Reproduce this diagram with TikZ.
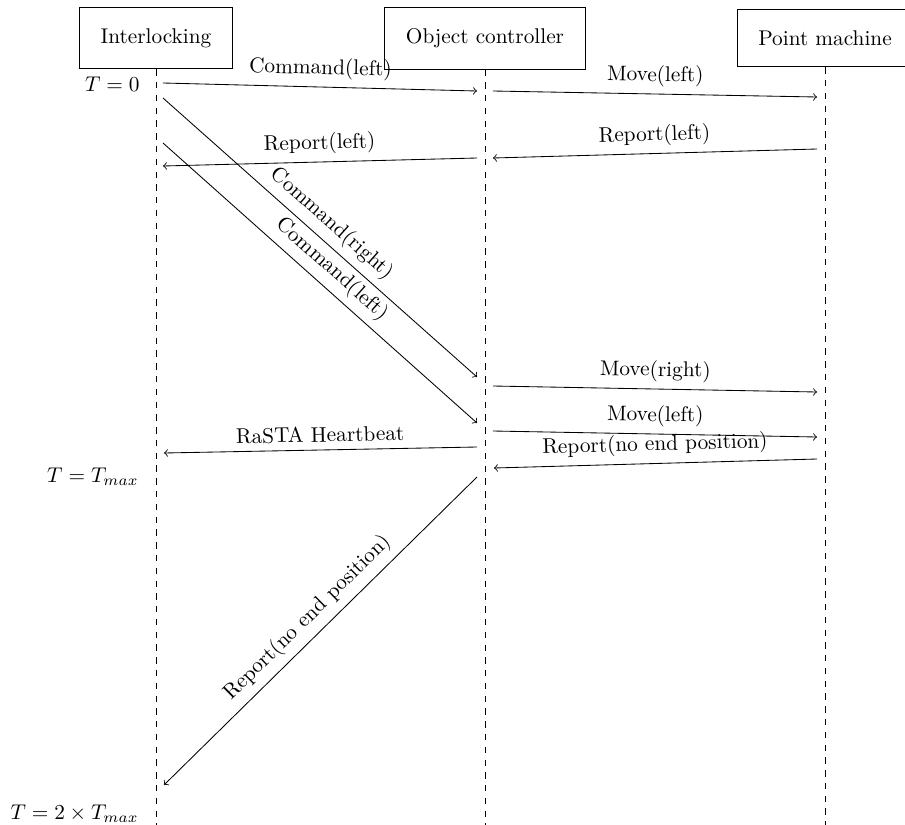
\documentclass[tikz,border=0pt]{standalone}
\begin{document}
\begin{tikzpicture}[x=0.4695pt,y=-0.4695pt,
  actor/.style={draw,inner sep=10pt},
  lifeline/.style={dashed},
  msg/.style={->},
  lbl/.style={midway,above,sloped},
  tlabel/.style={anchor=east,inner sep=0pt}]
\useasboundingbox (0,0) rectangle (905,825);

% participants
\node[actor] (il) at (156,38) {Interlocking};
\node[actor] (oc) at (485,38) {Object controller};
\node[actor] (pm) at (825,38) {Point machine};

% lifelines
\coordinate (ilend) at (156,825);
\coordinate (ocend) at (485,825);
\coordinate (pmend) at (825,825);
\draw[lifeline] (il.south) -- (ilend);
\draw[lifeline] (oc.south) -- (ocend);
\draw[lifeline] (pm.south) -- (pmend);

% message end points
\coordinate (i1) at (163,83);   \coordinate (o1) at (477,91);
\coordinate (o2) at (493,91);   \coordinate (p2) at (817,97);
\coordinate (p3) at (817,149);  \coordinate (o3) at (493,158);
\coordinate (o4) at (477,158);  \coordinate (i4) at (163,166);
\coordinate (i5) at (163,98);   \coordinate (o5) at (477,377);
\coordinate (i6) at (163,143);  \coordinate (o6) at (477,423);
\coordinate (o7) at (493,386);  \coordinate (p7) at (817,392);
\coordinate (o8) at (493,431);  \coordinate (p8) at (817,437);
\coordinate (o9) at (477,447);  \coordinate (i9) at (164,453);
\coordinate (p10) at (817,459); \coordinate (o10) at (494,468);
\coordinate (o11) at (477,477); \coordinate (i11) at (164,785);

% messages
\draw[msg] (i1) -- node[lbl] (m1) {Command(left)} (o1);
\draw[msg] (o2) -- node[lbl] (m2) {Move(left)} (p2);
\draw[msg] (p3) -- node[lbl] (m3) {Report(left)} (o3);
\draw[msg] (o4) -- node[lbl] (m4) {Report(left)} (i4);
\draw[msg] (i5) -- node[lbl] (m5) {Command(right)} (o5);
\draw[msg] (i6) -- node[lbl] (m6) {Command(left)} (o6);
\draw[msg] (o7) -- node[lbl] (m7) {Move(right)} (p7);
\draw[msg] (o8) -- node[lbl] (m8) {Move(left)} (p8);
\draw[msg] (o9) -- node[lbl] (m9) {RaSTA Heartbeat} (i9);
\draw[msg] (p10) -- node[lbl] (m10) {Report(no end position)} (o10);
\draw[msg] (o11) -- node[lbl] (m11) {Report(no end position)} (i11);

% time marks
\node[tlabel] (t0) at (140,84) {$T=0$};
\node[tlabel] (t1) at (139,477) {$T=T_{max}$};
\node[tlabel] (t2) at (139,814) {$T=2\times T_{max}$};
\end{tikzpicture}
\end{document}
